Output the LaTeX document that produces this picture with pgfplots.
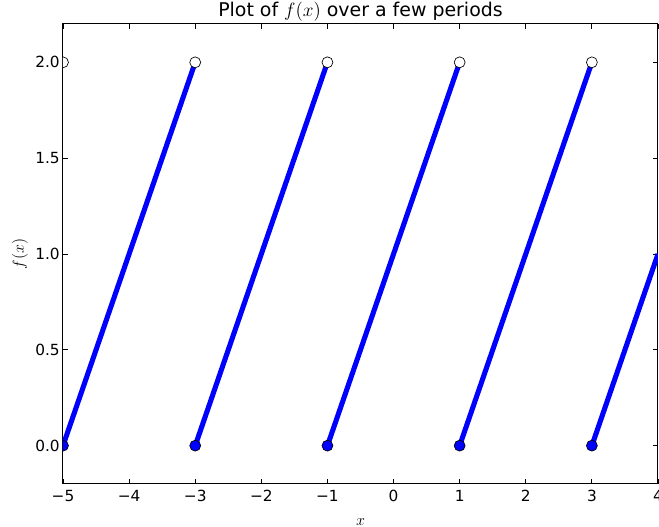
\documentclass[border=0pt]{standalone}
\usepackage{fontspec}
\setmainfont{DejaVu Sans}
\usepackage{pgfplots}
\pgfplotsset{compat=1.18}
\begin{document}
\fontsize{11.5}{14}\selectfont
\begin{tikzpicture}
\begin{axis}[
  scale only axis,
  width=446.25pt, height=345pt,
  xmin=-5, xmax=4, ymin=-0.2, ymax=2.2,
  xtick={-5,-4,-3,-2,-1,0,1,2,3,4},
  xticklabels={−5,−4,−3,−2,−1,0,1,2,3,4},
  ytick={0,0.5,1,1.5,2},
  yticklabels={0.0,0.5,1.0,1.5,2.0},
  tick align=inside,
  major tick length=3.75pt,
  tick style={black, line width=0.6pt},
  axis line style={line width=0.75pt},
  xticklabel style={anchor=north, inner sep=0pt, yshift=-4.5pt},
  yticklabel style={anchor=east, inner sep=0pt, xshift=-2.25pt},
  every axis title/.style={at={(axis description cs:0.5,1.0152)}, anchor=base, inner sep=0pt, font=\fontsize{14.2}{16}\selectfont},
  title={Plot of $f(x)$ over a few periods},
  xlabel={$x$},
  xlabel style={at={(axis description cs:0.5,-0.0826)}, anchor=center, font=\fontsize{12}{14}\selectfont},
  ylabel={$f(x)$},
  ylabel style={at={(axis description cs:-0.0723,0.5)}, anchor=center, font=\fontsize{12}{14}\selectfont},
  clip marker paths=true,
]
\addplot[blue, line width=3.8pt, unbounded coords=jump] table {
x y
-5 0
-3 2
nan nan
-3 0
-1 2
nan nan
-1 0
1 2
nan nan
1 0
3 2
nan nan
3 0
4 1
};
\addplot[only marks, mark=*, mark size=4.1pt, mark options={fill=white, draw=black, line width=0.5pt}] table {
x y
-5 2
-3 2
-1 2
1 2
3 2
};
\addplot[only marks, mark=*, mark size=4.1pt, mark options={fill=blue, draw=black, line width=0.5pt}] table {
x y
-5 0
-3 0
-1 0
1 0
3 0
};
\end{axis}
\pgfresetboundingbox
\path (-47.25pt,-32.25pt) rectangle (447pt,363pt);
\end{tikzpicture}
\end{document}
